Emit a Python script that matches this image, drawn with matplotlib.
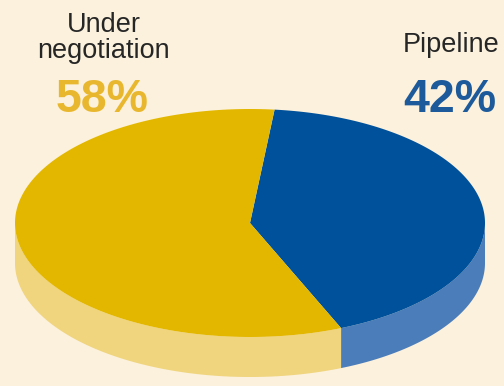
import numpy as np
import matplotlib
matplotlib.use("Agg")
import matplotlib.pyplot as plt
from matplotlib.patches import Polygon

# Share of projects by status
categories = ["Pipeline", "Under negotiation"]
shares = [42, 58]
label_lines = [["Pipeline"], ["Under", "negotiation"]]
top_colors = ["#00519B", "#E3B700"]
side_colors = ["#4B7DBA", "#F0D47E"]
pct_colors = ["#1D5A9C", "#E9B72E"]

bg = "#FBF1DC"

# Pie geometry in pixel space (y grows downward)
cx, cy = 250, 223
rx, ry = 235, 114
depth = 40
start = 84.0


def arc(a0, a1, dy=0, n=200):
    t = np.radians(np.linspace(a0, a1, n))
    return np.column_stack([cx + rx * np.cos(t), cy - ry * np.sin(t) + dy])


fig = plt.figure(figsize=(5.04, 3.86), dpi=100, facecolor=bg)
ax = fig.add_axes([0, 0, 1, 1])
ax.set_xlim(0, 504)
ax.set_ylim(386, 0)
ax.axis("off")
ax.set_facecolor(bg)

# slices go clockwise from the start angle
fracs = np.array(shares) / sum(shares)
edges = start - np.concatenate([[0], np.cumsum(fracs) * 360])

# side walls: only the front half (angles between -180 and 0) shows
for i in range(len(shares)):
    a0, a1 = edges[i], edges[i + 1]
    for lo, hi in [(-180, 0), (-540, -360)]:
        s0, s1 = min(a0, hi), max(a1, lo)
        if s0 > s1:
            top = arc(s0, s1)
            bot = arc(s1, s0, depth)
            ax.add_patch(Polygon(np.vstack([top, bot]), closed=True,
                                 facecolor=side_colors[i], edgecolor="none",
                                 zorder=1))

# top faces
for i in range(len(shares)):
    pts = np.vstack([[cx, cy], arc(edges[i], edges[i + 1])])
    ax.add_patch(Polygon(pts, closed=True, facecolor=top_colors[i],
                         edgecolor="none", zorder=2))

# labels
label_x = [451, 104]
line_y = [[52], [32, 58]]
pct_x = [450, 102]
for i in range(len(shares)):
    for line, y in zip(label_lines[i], line_y[i]):
        ax.text(label_x[i], y, line, ha="center", va="baseline",
                fontsize=19.5, color="#262626", family="Liberation Sans")
    ax.text(pct_x[i], 112, f"{shares[i]}%", ha="center", va="baseline",
            fontsize=33.5, fontweight="bold", color=pct_colors[i],
            family="Liberation Sans")

fig.savefig("out.png", dpi=100, facecolor=bg)
